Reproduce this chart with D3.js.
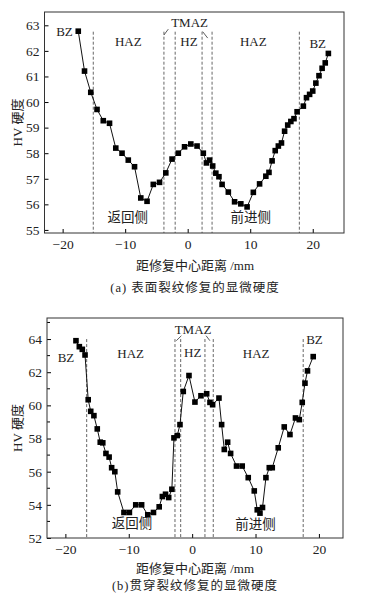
<!doctype html>
<html lang="zh">
<head>
<meta charset="UTF-8">
<title>显微硬度</title>
<style>
  body { margin: 0; background: #fff; }
  svg text { font-family: "Liberation Serif", "Noto Sans CJK SC", serif; fill: #222; }
</style>
</head>
<body>
<div id="chart"></div>
<script src="https://d3js.org/d3.v7.min.js"></script>
<script>
// (a) surface crack repair
const distA = [-17.5, -16.5, -15.5, -14.5, -13.5, -12.5, -11.5, -10.5, -9.5, -8.5, -7.5, -6.5, -5.5, -4.5, -3.5, -2.5, -1.5, -0.5,
  0.5, 1.5, 2.5, 3.0, 3.5, 4.0, 4.5, 5.0, 5.5, 6.5, 7.5, 8.5, 9.5, 10.5, 11.5, 12.5, 13.0, 13.5, 14.0, 14.5, 15.0, 15.5,
  16.0, 16.5, 17.0, 17.5, 18.5, 19.0, 19.5, 20.0, 20.5, 21.0, 21.5, 22.0, 22.5]
const hvA = [62.77, 61.21, 60.38, 59.71, 59.27, 59.17, 58.2, 58.0, 57.73, 57.47, 56.25, 56.12, 56.78, 56.86, 57.23, 57.77, 58.0, 58.25,
  58.36, 58.28, 58.0, 57.62, 57.73, 57.5, 57.22, 57.08, 56.78, 56.48, 56.1, 56.02, 55.9, 56.47, 56.8, 57.1, 57.25, 57.7, 58.1, 58.28, 58.4, 58.86,
  59.1, 59.24, 59.35, 59.62, 59.84, 60.17, 60.3, 60.43, 60.74, 61.03, 61.32, 61.53, 61.9]
const zoneLinesA = [-15.1, -3.8, -2.0, 2.3, 3.9, 17.86]
const yTicksA = [55, 56, 57, 58, 59, 60, 61, 62, 63]

// (b) through crack repair
const distB = [-18.33, -17.8, -17.33, -16.9, -16.4, -16.0, -15.5, -14.97, -14.5, -14.1, -13.6, -13.1, -12.7, -12.2, -11.75,
  -10.76, -9.9, -8.9, -7.97, -7.0, -6.1, -5.2, -4.7, -4.2, -3.7, -3.2, -2.87, -2.35, -1.92, -1.4, -0.5, 0.44, 1.39, 2.29,
  2.81, 3.23, 4.23, 4.65, 5.07, 5.6, 6.07, 7.0, 7.9, 8.85, 9.8, 10.27, 10.7, 11.1, 11.64, 12.17, 12.64, 13.58, 14.53,
  15.43, 16.3, 16.9, 17.37, 17.8, 18.2, 19.1]
const hvB = [63.9, 63.54, 63.38, 63.04, 60.34, 59.64, 59.38, 58.58, 57.78, 57.74, 57.1, 56.88, 56.24, 56.0, 54.78,
  53.54, 53.54, 54.0, 54.0, 53.4, 53.54, 53.88, 54.5, 54.64, 54.44, 54.94, 58.04, 58.18, 58.84, 60.84, 61.8, 60.2, 60.58, 60.7,
  60.18, 60.04, 60.44, 58.84, 57.34, 57.78, 57.1, 56.34, 56.34, 55.64, 54.84, 53.7, 53.5, 53.84, 55.64, 56.24, 56.24, 57.44, 58.7,
  58.24, 59.24, 59.14, 60.18, 61.34, 62.08, 62.94]
const zoneLinesB = [-16.64, -2.71, -1.81, 2.02, 3.33, 17.52]
const yTicksB = [52, 54, 56, 58, 60, 62, 64]
const yMinorB = [53, 55, 57, 59, 61, 63, 65]

const xTicks = [-20, -10, 0, 10, 20]
const xTitle = '距修复中心距离 /mm'
const yTitle = 'HV 硬度'

const svg = d3.select('#chart').append('svg').attr('width', 391).attr('height', 596)

function drawPanel (p) {
  const x = d3.scaleLinear().domain(p.xDomain).range([p.left, p.right])
  const y = d3.scaleLinear().domain(p.yDomain).range([p.bottom, p.top])
  const g = svg.append('g')

  // zone dashed lines
  g.selectAll('line.zone').data(p.zones).enter().append('line')
    .attr('x1', d => x(d)).attr('x2', d => x(d))
    .attr('y1', y(p.zoneTop)).attr('y2', p.bottom)
    .attr('stroke', '#555').attr('stroke-width', 0.9).attr('stroke-dasharray', '3,2')

  // axes, ticks pointing inward
  g.append('g').attr('transform', `translate(0,${p.bottom})`)
    .call(d3.axisBottom(x).tickValues(xTicks).tickSizeInner(-4).tickSizeOuter(0).tickPadding(6).tickFormat(d => d < 0 ? '−' + Math.abs(d) : d))
    .call(a => a.select('.domain').remove())
    .call(a => a.selectAll('text').style('font-size', '13.5px'))
  g.append('g').attr('transform', `translate(${p.left},0)`)
    .call(d3.axisLeft(y).tickValues(p.yTicks).tickSizeInner(-4).tickSizeOuter(0).tickPadding(5))
    .call(a => a.select('.domain').remove())
    .call(a => a.selectAll('text').style('font-size', '13.5px'))
  if (p.yMinor) {
    g.selectAll('line.minor').data(p.yMinor.filter(v => v < p.yDomain[1])).enter().append('line')
      .attr('x1', p.left).attr('x2', p.left + 3)
      .attr('y1', d => y(d)).attr('y2', d => y(d)).attr('stroke', '#000')
  }
  g.selectAll('.tick line').attr('stroke', '#000')
  g.append('rect').attr('x', p.left).attr('y', p.top)
    .attr('width', p.right - p.left).attr('height', p.bottom - p.top)
    .attr('fill', 'none').attr('stroke', '#333').attr('stroke-width', 1)

  // data
  const pts = p.dist.map((d, i) => [d, p.hv[i]])
  g.append('path').datum(pts)
    .attr('d', d3.line().x(d => x(d[0])).y(d => y(d[1])))
    .attr('fill', 'none').attr('stroke', '#111').attr('stroke-width', 1)
  g.selectAll('rect.pt').data(pts).enter().append('rect')
    .attr('x', d => x(d[0]) - 2.8).attr('y', d => y(d[1]) - 2.8)
    .attr('width', 5.6).attr('height', 5.6).attr('fill', '#000')

  // zone labels
  p.labels.forEach(l => {
    g.append('text').attr('x', x(l[1])).attr('y', y(l[2])).attr('text-anchor', 'middle')
      .attr('dominant-baseline', 'central').style('font-size', l[3] || '13px').text(l[0])
  })
  // TMAZ leaders
  p.leaders.forEach(l => {
    g.append('line').attr('x1', x(l[0])).attr('y1', y(l[1])).attr('x2', x(l[2])).attr('y2', y(l[3]))
      .attr('stroke', '#333').attr('stroke-width', 0.8)
  })

  // titles
  g.append('text').attr('x', 195).attr('y', p.titleY).attr('text-anchor', 'middle')
    .style('font-size', '13px').text(xTitle)
  g.append('text').attr('x', 195).attr('y', p.captionY).attr('text-anchor', 'middle')
    .style('font-size', '12.5px').style('letter-spacing', '1px').text(p.caption)
  g.append('text').attr('transform', `translate(22,${(p.top + p.bottom) / 2}) rotate(-90)`)
    .attr('text-anchor', 'middle').style('font-size', '13px').text(yTitle)
}

drawPanel({
  left: 44.5, right: 344, top: 12, bottom: 233,
  xDomain: [-22.9, 25.0], yDomain: [54.88, 63.52],
  dist: distA, hv: hvA, zones: zoneLinesA, zoneTop: 62.75, yTicks: yTicksA,
  labels: [['BZ', -19.7, 62.77], ['HAZ', -9.5, 62.35], ['HZ', 0.2, 62.35], ['HAZ', 10.5, 62.35], ['BZ', 20.8, 62.3],
    ['TMAZ', 0.3, 63.1], ['返回侧', -9.6, 55.5, '13.5px'], ['前进侧', 10.1, 55.48, '13.5px']],
  leaders: [[-3.1, 62.85, -3.8, 62.62], [2.4, 62.75, 3.2, 62.5]],
  titleY: 270, captionY: 292,
  caption: '(a) 表面裂纹修复的显微硬度'
})

drawPanel({
  left: 47, right: 343, top: 318, bottom: 538,
  xDomain: [-22.9, 23.8], yDomain: [52.0, 65.27],
  dist: distB, hv: hvB, zones: zoneLinesB, zoneTop: 64.0, yTicks: yTicksB, yMinor: yMinorB,
  labels: [['BZ', -19.9, 62.9], ['HAZ', -9.7, 63.1], ['HZ', 0.1, 63.2], ['HAZ', 10.1, 63.1], ['BZ', 19.3, 64.0],
    ['TMAZ', 0.15, 64.6], ['返回侧', -9.5, 52.85, '13.5px'], ['前进侧', 10.0, 52.8, '13.5px']],
  leaders: [[-1.7, 64.2, -2.5, 63.9], [2.2, 64.2, 2.8, 63.9]],
  titleY: 573, captionY: 590,
  caption: '(b)贯穿裂纹修复的显微硬度'
})
</script>
</body>
</html>
